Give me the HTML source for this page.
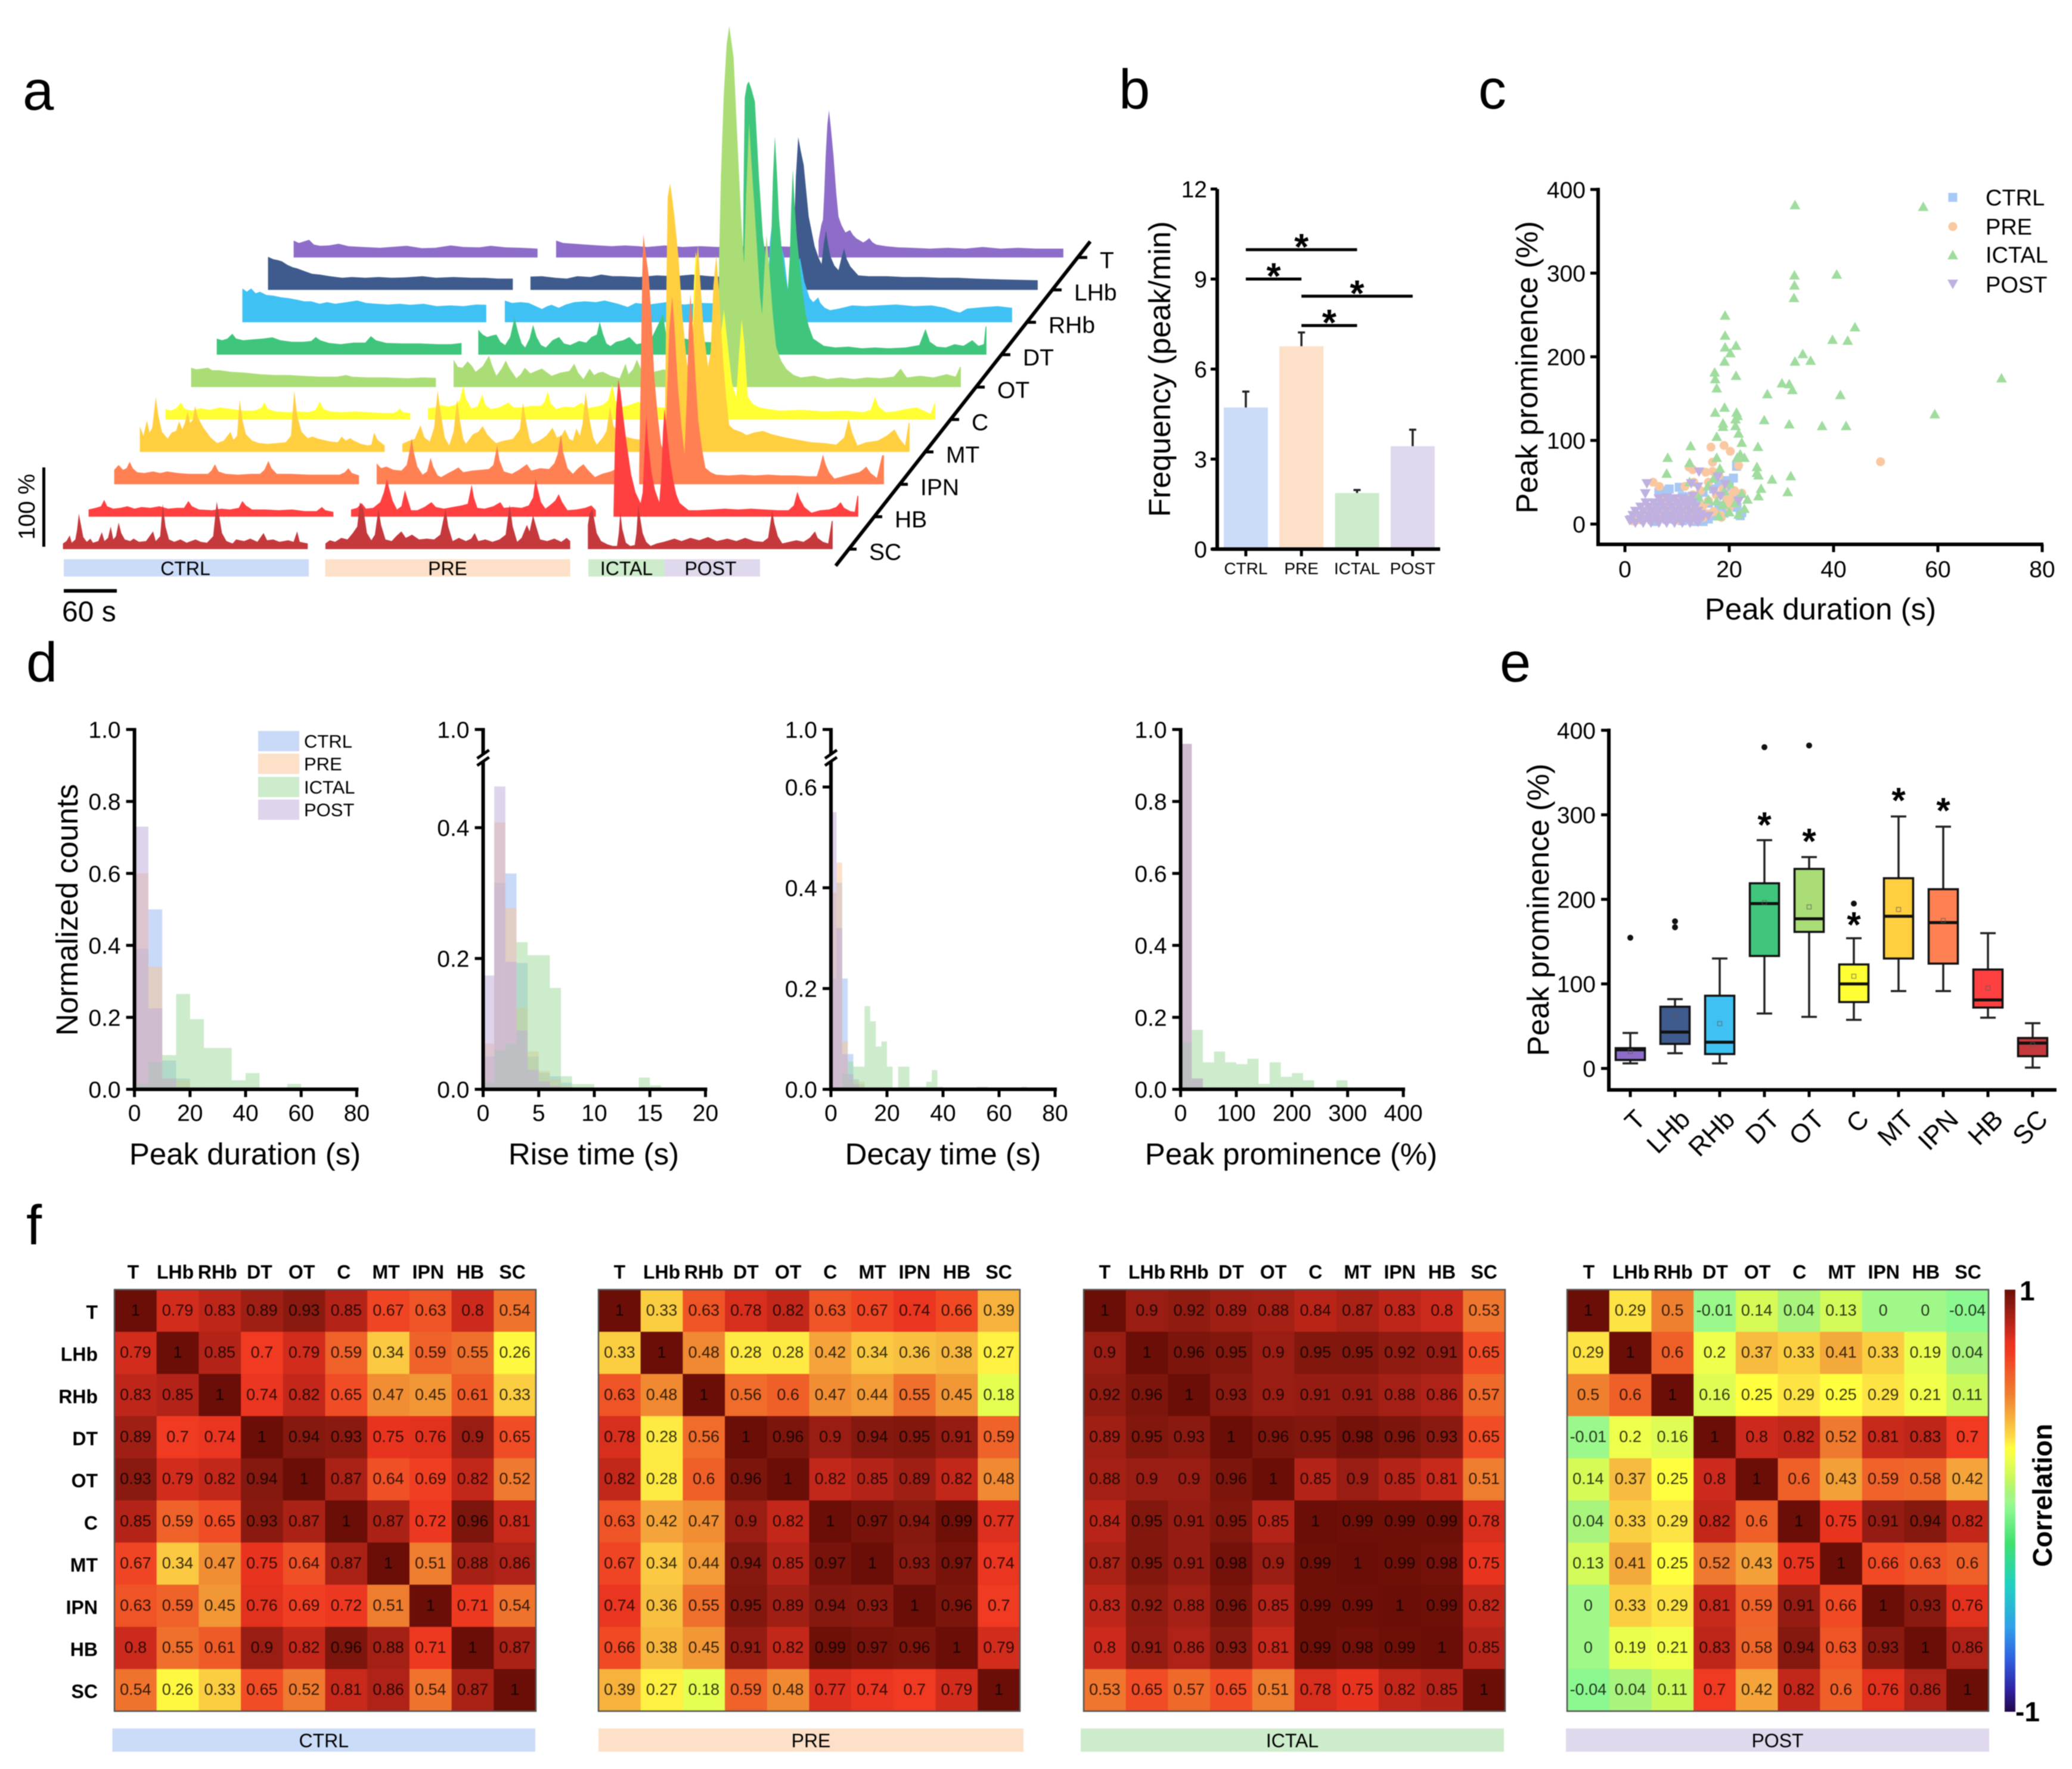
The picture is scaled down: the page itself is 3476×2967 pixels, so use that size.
<!DOCTYPE html>
<html lang="en">
<head>
<meta charset="utf-8">
<title>Multi-panel neural activity figure</title>
<style>
html,body{margin:0;padding:0;background:#fff;width:3476px;height:2967px;overflow:hidden}
svg{display:block;font-family:"Liberation Sans",Arial,sans-serif;filter:blur(0.9px)}
</style>
</head>
<body>
<svg id="figure" xmlns="http://www.w3.org/2000/svg" width="3476" height="2967" viewBox="0 0 3476 2967">
  <rect x="0" y="0" width="3476" height="2967" fill="#fff"/>
  <defs>
    <linearGradient id="cbar" x1="0" y1="0" x2="0" y2="1"></linearGradient>
  </defs>
  <g id="panelA">
    <text x="38" y="184" font-size="94">a</text>
    <text transform="translate(58,850) rotate(-90)" text-anchor="middle" font-size="39">100 %</text>
    <text x="104" y="1042" font-size="48">60 s</text>
  </g>
  <g id="panelB">
    <text x="1877" y="182" font-size="94">b</text>
    <text transform="translate(1963,619) rotate(-90)" text-anchor="middle" font-size="51">Frequency (peak/min)</text>
  </g>
  <g id="panelC">
    <text x="2480" y="182" font-size="94">c</text>
    <text transform="translate(2579,616) rotate(-90)" text-anchor="middle" font-size="51">Peak prominence (%)</text>
    <text x="3054" y="1039" text-anchor="middle" font-size="51">Peak duration (s)</text>
  </g>
  <g id="panelD">
    <text x="44" y="1143" font-size="94">d</text>
    <text transform="translate(130,1526) rotate(-90)" text-anchor="middle" font-size="51">Normalized counts</text>
    <text x="411" y="1953" text-anchor="middle" font-size="51">Peak duration (s)</text>
    <text x="996" y="1953" text-anchor="middle" font-size="51">Rise time (s)</text>
    <text x="1582" y="1953" text-anchor="middle" font-size="51">Decay time (s)</text>
    <text x="2166" y="1953" text-anchor="middle" font-size="51">Peak prominence (%)</text>
  </g>
  <g id="panelE">
    <text x="2516" y="1143" font-size="94">e</text>
    <text transform="translate(2598,1526) rotate(-90)" text-anchor="middle" font-size="51">Peak prominence (%)</text>
  </g>
  <g id="panelF">
    <text x="44" y="2087" font-size="94">f</text>
    <text transform="translate(3442,2508) rotate(-90)" text-anchor="middle" font-size="45" font-weight="bold">Correlation</text>
    <text x="3388" y="2181" font-size="46" font-weight="bold">1</text>
    <text x="3381" y="2887" font-size="46" font-weight="bold">-1</text>
  </g>
</svg>
<script>
/* ---------- shared categories ---------- */
const regions = ['T','LHb','RHb','DT','OT','C','MT','IPN','HB','SC'];
const phases = ['CTRL','PRE','ICTAL','POST'];

/* ---------- panel a: traces as [seconds, percent, ...] ---------- */
const traceTCtrl=[0,21,6,18,12,20,17.5,22,23,16,30,14.5,40,15,51,17,62,14,78,13,98,12,110,13,128,14.5,145,11.5,160,12,178,15,192,13,210,12.5,223,14.5,240,12.5,258,12,276,11];
const traceTPre=[297,21,305,18,318,17,330.5,16,345,15,360,14,375,15,390,14,400,13,420,15,440,13,460,14,480,13,500,14,520,13,540,14,574,13];
const traceTIctal=[594,21,597,40,599,47,600.5,80,602,125,604,165,605.8,182.6,608,160,611,125,614,80,616.6,50.7,620,40,624.4,31,629.6,34,633,28,636.8,23.6,644.6,18.7,648,21,651.4,24,655,19,659.3,16,670,14,684,12.5,700,12,720,11,740,12,760,11,780,13,800,11,820,12,840,11,871,11];
const traceLHbCtrl=[0,41,6,38,11,37,15.5,35.6,22,31,28,28,33,26.7,42,23,50,20,58.5,19,70,17,84,15,95,16,110,15,125,16,140,15,155,15.5,175,17,190,15,210,16,230,15,245,15,260,14,277,14];
const traceLHbPre=[297,16.5,310,17,325,15,338,14,350,17,365,16,377,19,390,17,400,17,420,16,440,18,460,17,480,19,500,17,520,16,540,15,574,15];
const traceLHbIctal=[594,14,595,60,597.3,140,600,189.5,603,172,606.2,155,611.9,91,618.6,54,623,40,626.4,32,629,58,631.4,73.5,634,55,636.5,41.6,641,30,645.6,24.5,649,40,651.9,51.5,655,38,659,29,668,18,680,17,700,17,720,16,740,16,760,15,780,15,800,14,830,13,871,12];
const traceRHbCtrl=[0,42,5,38,10,42,15,36,20,38,27,34,35,33,44,31,52,30,62,28,70,26,78,26,87.5,23,96,25,105,23,118,25,130,27,140,24,152,23,165,22,178,23,190,21.6,205,23,220,20,235,21,250,20,265,22,276,21.6];
const traceRHbPre=[297,27,305,24,315,25,324,24,332,20,339,16.5,345,20,350,21.6,358,18,366,22,375.6,25,388,26,400,25,410,27,425,23,436,19,445,24,460,22,480,25,500,22,520,24,574,22];
const traceRHbIctal=[594,24,597,100,600,130,606,110,613,82,617.5,40,622,35,627,70,631,80,636,50,642,30,646,25,649,28,651.6,31,654,24,659,18,665,15,675,17,690,21,705,20,720,21,740,22,760,20,780,21,795,18,805,14,812,12,820,17,840,19,855,20,871,18];
const traceDTCtrl=[0,20,6,18,12,20,17.6,26,22,20,30,18,40,19,52,20,63,21.6,72,18,85,16,98,16,107,17,112,22,117,18,127,14.5,140,13,155,15,168,15,174.5,23,180,18,192,14.5,210,14,230,14,250,13,265,13,277,14.5];
const traceDTPre=[296,31,301,25,306,22,312,24,316.5,25,321,16,326.3,12,332,22,337,46,341,28,345,14,349,9,354,20,358,37,362,22,367,12,372.4,9,380,18,387.4,22,393,14,400,12,410,17,418,15,424,22,430,25,433.4,41,437,26,441,14,445.5,10.7,452,16,460,18,467,22,475,13,490,16,505,50,509,22,518,16,530,20,545,16,574,15];
const traceDTIctal=[594,14,595.5,100,596,196,597.5,319,600,335,602,339,605,330,609,314,613.6,220,618,147,623,105,625,105,627.6,147,629.4,220,631.6,271,634,225,636.2,171,639,135,642.9,97,646.3,80,648.5,122,650,180,651.9,230,654,185,656.4,147,659,118,662,85,666.5,50,670,35,675,20,687,11,700,9,715,10,730,8,745,9,760,8,780,9,795,12,802,32,807,16,815,10,825,9,835,13,845,11,855,18,862,11,868,13,870,35,871,35];
const traceOTCtrl=[0,24,6,22,12,23,19,24,24,21,32,21,45,19,60,18,78,16,95,15,111,15,125,14,145,13,165,13,175.6,15,182,13,200,12,220,12,245,11,262,12,277,11.4];
const traceOTPre=[297,34,302,25,307,24,313,32,318,26,322,19,330,26,337,39,341,26,345.5,14,352,24,356,33,360,24,368,11,373,16,377.7,24,384,17,390,20,397,23,403,18,408,14,418,18,428,20,433.6,29,438,18,444,10,451,23,456,15,461,18,466,19,475,14,485,11,491.6,29,495,16,500,22,504.5,34,510,20,520,18,535,22,550,16,574,16];
const traceOTIctal=[595.5,16,597,100,597.5,162,599.5,261,602.6,360,606,425,609,448,613.9,409,618.1,310,622.3,212,625.7,152,628,235,631.4,328,634,280,638.1,212,643.8,113,646,90,649,150,651.2,189,654,150,658.4,88,662,50,668,32,674,22,682,15,690,12,705,14,720,10,735,12,750,10,765,12,780,11,795,13,803,23,810,12,825,14,840,12,855,16,865,13,870,25,871,25];
const traceCCtrl=[0,13,6,11,12,14,17.6,21,22,13,30,11,40,14,50,12,62,15,75,13,88,11,100,11,108,14,112,21,116,13,125,10,138,9,150,10,162,9,170,12,174.5,22,179,13,186,10,200,9,215,10,230,9,245,8,258,8,262,10,265,13.5,269,9,277,8];
const traceCPre=[297,14,305,15,312,18,320,16,328,18,333,24,337,42,340,26,346,14,353,16,358.5,31,362,18,368,13,378,15,388,21,394,15,404,15,414,17,425,17,429,22,432.5,35,436,20,442,13,452,16,462,15,471,21,477,14,487,16,495,18,501,24,505.6,43,509,24,515,15,525,18,535,22,550,16,574,14];
const traceCIctal=[594,12,596,100,598,170,600,208,603,190,607,120,612,65,618,45,624,60,628,100,632,136,636,95,641,45,645.8,28,649,80,652,124,655,95,659,28,665,19,672,15,682,13,695,11,720,12,745,10,770,11,790,9,798,12,803,28,807,16,815,9,825,10,838,13,850,15,860,10,866,7,870,20,871,20];
const traceMTCtrl=[0,32,4,20,8,39,11,24,14,30,18,68,21,45,25,25,31.5,16.5,36,24,41,26,44.4,38,48,28,51,36,54,50,57,36,60,40,62.5,57,66,42,72,30,80,18,87.4,11,95,14,102.5,25,106,15,110,20,113,65,116,40,120,22,127,14,135,11,145,10,155,11,165,12,171,20,174.7,76,178,45,183,25,190,17,195,19,203,16,215,13,224,12,228.4,19,233,14,238,17,242,14,250,10,258,8,262,9,265,24,269,15,277,8];
const traceMTPre=[297,10,305,14,311,16,317.5,33,322,18,328,13,333,30,337,76,340,52,345,18,350,8,355,25,359,65,362,40,366,16,369,10,377,22,383,25,388,32,393,22,398,16,403,11,412,14,422,16,430,28,433.6,61,437,38,441,16,444,10,452,14,460,20,467,30,472,18,477,20,481,28,486,16,490,14,494,29,498,20,501,35,504.5,74,508,45,513,18,517,9,524,18,528,26,532,56,536,32,545,20,560,16,574,14];
const traceMTIctal=[594,20,596,217,597.3,316,600,333,602,318,605,292,609.5,242,614,168,619,110,623,95,627,170,629.5,230,631.6,256,634,215,638,150,643,105,646,125,649,205,652.3,244,655,205,657.7,155,660,115,663.4,68,667,33,672,28,680,25,686.6,21,695,24,705,26,715,22,730,18,745,15,760,12,775,11,788,9,797,18,802,41,806,24,812,8,822,12,835,14,845,20,854,28,860,16,866,8,870,36,871,36];
const traceIPNCtrl=[0,18,5,24,10,18,14,20,17.5,28,21,20,26,15,34,14,44,16,52,14,60,16,72,14,84,13,96,13,106,13,110,17,114,25,118,16,126,13,140,12,155,13,165,13,170,18,174.5,29,178,20,184,13,200,13,220,12,240,12,255,12,261,15,265,20,269,14,277,11];
const traceIPNPre=[297,26,302,20,308,22,316,18,325,17,331,24,334,40,336.6,57,339,40,343,22,349,12,354,16,358,33,361,22,366,11,370,9,378,14,385,18,389.5,21,395,15,405,17,415,18,424,19,429,24,433.3,48,436,30,441,16,450,13,458,18,467,25,472,17,482,20,492,19,498,26,502,38,505.5,62,508,40,513,20,519,13,525,20,531,25,536,18,544,9,552,13,562,16,570,20,574,16];
const traceIPNIctal=[594,16,596,150,597.5,260,598.8,310,601,290,604.9,258,607.8,209,611,137,615,85,618.8,50,622,40,625,90,628,190,631.4,233,634,195,638,120,642,70,645.4,38,648,110,650,190,652,236,655,190,658,130,661,79,665,45,669,20.5,675,15,681,12,695,11,710,12,725,11,740,12,755,11,770,11,785,10,795,10,798,20,802,37,805,25,809,15,815,7,825,10,835,13,843,15,847,18,851,22,856,14,863,8,869,36,871,36];
const traceHBCtrl=[0,9,8,11,14,13,17.7,21,21,13,28,10,36,11,44,13,52,10,60,12,70,11,80,13,90,10,100,11,108,11,113,19.5,117,13,125,9,140,8,150,10,160,9,170,11,174,19.5,178,14,185,9,200,9,215,8,230,9,245,7,258,7,264,12,268,8,277,6];
const traceHBPre=[297,9,304,11,309,17,314,10,322,11,330,18,334,30,337.6,47,340,36,344,20,349,9,354,13,358,33,361,22,365,8,372,8,380,12,388,18,393,12,402,10,412,12,422,14,429,16,433.5,40,436,24,440,11,448,10,458,13,466,18,470,11,480,12,490,11,498,14,503,24,505.7,47,508,36,512,18,517,10,524,16,528,20,532,28,536,18,542,8,552,9,562,11,569,14,574,8];
const traceHBIctal=[594,5,595.6,90,597,135,599.5,170,602,155,605,125,609,90,614,52,619,30,624.6,17,627,30,629,80,631.2,126,633,95,637,55,641,33,645.8,18,648,50,650,105,651.7,134,654,110,658,70,661.5,46,665,28,669,17,679,8,690,8,705,9,720,10,735,9,750,10,765,9,780,8,792,8,798,14,802,31,805,22,810,12,818,5,828,8,838,9,846,12,851,18,855,11,862,7,867,6,870,26,871,26];
const traceSCCtrl=[0,7,4,10,7.6,17,10,8,14,12,16,24,18,44,20,32,23,15,27,9,31,13,34,8,40,10,44,21,47,10,51,14,54,28,57,12,60,16,63,33,66,20,70,12,76,10,80,13,86,9,94,10,102,22,105,10,110,16,113,56,116,28,120,12,126,9,133,12,140,8,150,12,156,9,163,8,170,16,174,59,177,40,180,20,185,10,192,7,196,12,205,10,212,13,220,9,227,20,231,11,238,12,245,9,255,11,261,9,265,22,268,9,277,7];
const traceSCPre=[297,7,302,11,308,9,315,14,322,12,328,20,333,28,336,58,340,50,344,20,349,11,353,18,357,50,360,30,365,12,372,10,377,16,383,22,388,14,395,18,403,12,412,13,420,12,427,18,433,50,436,28,441,10,448,14,456,10,462,13,466,20,470,10,478,12,486,9,494,12,501,18,505.5,55,509,28,514,9,519,14,525,30,528,22,532,42,535,30,540,12,548,10,556,13,564,9,570,14,574,10];
const traceSCIctal=[594,30,596,44,599,50,601,38,604,20,609,10,616,6,622,4,627,4,629,20,630.7,46,633,25,637,8,642,4,647,5,649,20,651,55,653,40,656,20,660,9,665,4,672,7,680,9,692,13,700,10,710,14,720,11,730,15,740,10,752,13,762,10,772,14,782,10,792,9,798,14,802.7,48,805,32,809,16,814,7,822,9,830,11,838,9,845,14,851,22,854,14,860,9,866,7,870,35,871,35];

const traceCtrl=[traceTCtrl,traceLHbCtrl,traceRHbCtrl,traceDTCtrl,traceOTCtrl,traceCCtrl,traceMTCtrl,traceIPNCtrl,traceHBCtrl,traceSCCtrl];
const tracePre=[traceTPre,traceLHbPre,traceRHbPre,traceDTPre,traceOTPre,traceCPre,traceMTPre,traceIPNPre,traceHBPre,traceSCPre];
const traceIctal=[traceTIctal,traceLHbIctal,traceRHbIctal,traceDTIctal,traceOTIctal,traceCIctal,traceMTIctal,traceIPNIctal,traceHBIctal,traceSCIctal];

/* ---------- panel b ---------- */
const freqValues=[4.72,6.76,1.87,3.43];
const freqErrors=[0.53,0.46,0.1,0.55];
const freqTicks=[0,3,6,9,12];
const sigFrom=[0,0,1,1];
const sigTo=[2,1,3,2];
const sigLevel=[9.98,9.0,8.43,7.45];

/* ---------- panel c: [duration, prominence, ...] ---------- */
const scatterCtrl=[21.4,69,22.4,13.6,19,13,20.8,55,10.4,44,7.3,40,8.5,42,6.5,38,22.1,10,21.5,20,19.5,52,18,50,20,45,19,35,21,30,17,42,15,38,14,30,12,32,11,33,9,30,8,30,13,22,16,25,18,18,17,10,16,6,19,22,20,22,15,12,14,5,12,8,10,12,9,20,7,25,6,18,5,10,11,4,8,6,6,3,13,3,15,3,3,8,4,14,12,28,10,25,8,15];
const scatterPre=[49,74.5,16.5,92,19,94,20.2,87,21.8,70,16.8,74,12.3,68,13,65,16.8,63,15.5,62,5.4,50,6.6,45,11.5,45,13.2,50,18.3,11,20.8,38,20,33,19.5,29,18.8,42,21,40,22.4,37,17.5,35,16,28,15,22,14.5,40,13,35,12,20,10,30,9,15,7,30,5,20,4,12,3.5,7,6,8,8,22,11,10,13,6,15,8,17,15,18.5,8,20,20,21,25,2.5,5,10,5,16,12,14,15,9.5,25,7,12,1.5,4,16,50,18,58];
const scatterIctal=[32.6,382,57.2,380,32.5,298,40.6,299,32.5,286,32.4,271,19.2,250,44.1,236,19.2,226,39.8,221,42.7,220,19.2,212,21.3,214,20.2,205,34.1,204,32.6,195,19.1,195,35.6,196,17.2,182,21.3,178,17.3,174,30.1,169,31.5,168,72.2,175,17.6,163,32.1,161,27.3,156,41.3,155,19.1,140,17.3,134,21.4,134,59.4,132,21.6,130,26.7,125,18.8,121,21.2,126,31.5,120,37.8,118,42.4,118,18.8,117,21.2,118,17.6,105,21.8,109,22.4,98,12.6,94,25.5,93,22.1,84,8.2,80,22.9,80,12.4,74,21.5,80,8,61,25.3,69,25.3,62,25.6,59,31.8,58,28.2,54,26.1,43,31.2,39,25.6,34,23.5,30,17.6,80,18.2,67,17,55,22.4,37,21.2,26,21.8,12,17.6,28,18.8,24,14.1,33,15.9,46,20,49,22.9,19,12.4,51,12.9,17,16,30,19,40,20,15,18,10];
const scatterPost=[4.2,48,3.9,36,14.2,62,12.7,48,14,44,17.8,56,19.2,47,21.8,27,17,39,18.3,33,15,9,16,9,13,33,0.9,4,2,1,3.5,1,5,1,6.5,1,8,1,9.5,1,11,1,12.5,1,14,2,1.2,5,3,5,4.5,5,6,5,7.5,5,9,5,10.5,5,12,5,13.5,5,14.5,6,1.5,10,3,10,4.5,10,6,10,7.5,10,9,10,10.5,10,12,10,13.5,10,14.5,11,2,15,3.5,15,5,15,6.5,15,8,15,9.5,15,11,15,12.5,15,14,15,3,20,4.5,20,6,20,7.5,20,9,20,10.5,20,12,20,13.5,20,4,25,5.5,25,7,25,8.5,25,10,25,11.5,25,13,25,6.5,30,8,31,9.5,30,11,30,12.5,28];
const scatterXTicks=[0,20,40,60,80];
const scatterYTicks=[0,100,200,300,400];

/* ---------- panel d: normalized histogram counts per bin ---------- */
const durationCtrl=[.39,.50,.08,.03];
const durationPre=[.60,.34,.03,.025];
const durationIctal=[.015,.075,.095,.265,.195,.115,.115,.025,.045,0,0,.015,0,0,.003];
const durationPost=[.73,.225,.03,.005];
const riseCtrl=[.05,.316,.33,.193,.05,.025,.02,.01];
const risePre=[.07,.408,.277,.125,.058,.028,.015,.005];
const riseIctal=[.01,.06,.07,.225,.205,.205,.155,.02,.008,.008,0,0,0,0,.018,.006];
const risePost=[.174,.463,.195,.09,.03,.012,.005];
const decayCtrl=[.22,.41,.22,.07,.02,.01];
const decayPre=[.39,.45,.095,.02,.015,.015];
const decayIctal=[0,0,.03,.055,.045,.045,.165,.135,.085,.095,.045,0,.045,.045,.005,.005,.005,.015,.038,.005,0,0,0,0,0,0,.005,.005,0,0,0,0,0,0,.005];
const decayPost=[.55,.32,.07,.03,.01];
const promCtrl=[.96,.03];
const promPre=[.96,.03];
const promIctal=[.13,.165,.075,.105,.075,.07,.085,.015,.075,.035,.045,.025,0,0,.025];
const promPost=[.96,.03];
const fractionTicks=[0,.2,.4,.6,.8,1];
const riseFractionTicks=[0,.2,.4];
const decayFractionTicks=[0,.2,.4,.6];
const durationTicks=[0,20,40,60,80];
const riseTicks=[0,5,10,15,20];
const promTicks=[0,100,200,300,400];

/* ---------- panel e: box plot stats ---------- */
const boxLow=[6,18,6,65,61,57.5,91.5,91.5,60,1];
const boxQ1=[10,29,17,133,161.5,78.5,130,124,72,14.5];
const boxMedian=[22,43,31,195,177,100,180,172.5,81,30];
const boxQ3=[24,73,86,219,236,123,225,212,117,36];
const boxHigh=[42,82,130,270,250,154,298,286,160,53.5];
const boxMean=[20,63,53,196,191,109,188,175,95,28];
const boxOutliers=[[154.6],[174,167],[],[380],[382],[195],[],[],[],[]];
const boxStars=[null,null,null,298,278.5,180,327,315,null,null];
const boxTicks=[0,100,200,300,400];

/* ---------- panel f: correlation matrices ---------- */
const corrCtrl=[
[1,.79,.83,.89,.93,.85,.67,.63,.8,.54],
[.79,1,.85,.7,.79,.59,.34,.59,.55,.26],
[.83,.85,1,.74,.82,.65,.47,.45,.61,.33],
[.89,.7,.74,1,.94,.93,.75,.76,.9,.65],
[.93,.79,.82,.94,1,.87,.64,.69,.82,.52],
[.85,.59,.65,.93,.87,1,.87,.72,.96,.81],
[.67,.34,.47,.75,.64,.87,1,.51,.88,.86],
[.63,.59,.45,.76,.69,.72,.51,1,.71,.54],
[.8,.55,.61,.9,.82,.96,.88,.71,1,.87],
[.54,.26,.33,.65,.52,.81,.86,.54,.87,1]];
const corrPre=[
[1,.33,.63,.78,.82,.63,.67,.74,.66,.39],
[.33,1,.48,.28,.28,.42,.34,.36,.38,.27],
[.63,.48,1,.56,.6,.47,.44,.55,.45,.18],
[.78,.28,.56,1,.96,.9,.94,.95,.91,.59],
[.82,.28,.6,.96,1,.82,.85,.89,.82,.48],
[.63,.42,.47,.9,.82,1,.97,.94,.99,.77],
[.67,.34,.44,.94,.85,.97,1,.93,.97,.74],
[.74,.36,.55,.95,.89,.94,.93,1,.96,.7],
[.66,.38,.45,.91,.82,.99,.97,.96,1,.79],
[.39,.27,.18,.59,.48,.77,.74,.7,.79,1]];
const corrIctal=[
[1,.9,.92,.89,.88,.84,.87,.83,.8,.53],
[.9,1,.96,.95,.9,.95,.95,.92,.91,.65],
[.92,.96,1,.93,.9,.91,.91,.88,.86,.57],
[.89,.95,.93,1,.96,.95,.98,.96,.93,.65],
[.88,.9,.9,.96,1,.85,.9,.85,.81,.51],
[.84,.95,.91,.95,.85,1,.99,.99,.99,.78],
[.87,.95,.91,.98,.9,.99,1,.99,.98,.75],
[.83,.92,.88,.96,.85,.99,.99,1,.99,.82],
[.8,.91,.86,.93,.81,.99,.98,.99,1,.85],
[.53,.65,.57,.65,.51,.78,.75,.82,.85,1]];
const corrPost=[
[1,.29,.5,-.01,.14,.04,.13,0,0,-.04],
[.29,1,.6,.2,.37,.33,.41,.33,.19,.04],
[.5,.6,1,.16,.25,.29,.25,.29,.21,.11],
[-.01,.2,.16,1,.8,.82,.52,.81,.83,.7],
[.14,.37,.25,.8,1,.6,.43,.59,.58,.42],
[.04,.33,.29,.82,.6,1,.75,.91,.94,.82],
[.13,.41,.25,.52,.43,.75,1,.66,.63,.6],
[0,.33,.29,.81,.59,.91,.66,1,.93,.76],
[0,.19,.21,.83,.58,.94,.63,.93,1,.86],
[-.04,.04,.11,.7,.42,.82,.6,.76,.86,1]];
const corrMatrices=[corrCtrl,corrPre,corrIctal,corrPost];

/* ---------- drawing helpers ---------- */
const NS='http://www.w3.org/2000/svg';
function add(parent,tag,name,attrs,text){
  const el=document.createElementNS(NS,tag);
  
  
  for(const k in attrs) el.setAttribute(k,attrs[k]);
  if(text!==undefined) el.textContent=text;
  parent.appendChild(el);
  return el;
}
function line(p,name,x1,y1,x2,y2,w,c){return add(p,'line',name,{x1,y1,x2,y2,stroke:c||'#000','stroke-width':w});}
function rect(p,name,x,y,w,h,fill){return add(p,'rect',name,{x,y,width:w,height:h,fill});}
function label(p,name,x,cy,s,size,anchor,weight,fill){
  return add(p,'text',name,{x,y:cy+size*.36,'font-size':size,'text-anchor':anchor||'middle','font-weight':weight||'normal',fill:fill||'#000'},s);
}
function star(p,name,cx,cy,size){
  return add(p,'text',name,{x:cx,y:cy+size*.575,'font-size':size,'font-weight':'bold','text-anchor':'middle'},'*');
}

const regionColors=['#8e6cc9','#3f5b8d','#3fc1f3','#3fc67c','#abdd77','#ffff33','#ffcf40','#ff8052','#ff4040','#c5383c'];
const phaseLight=['#cbdcf8','#fde0c8','#cdeccb','#e0d8ec'];
const histFill=['rgba(147,181,241,.5)','rgba(249,193,145,.5)','rgba(155,217,153,.5)','rgba(190,170,215,.5)'];
const markerFill=['#a7c8f4','#fac8a0','#9fdc9e','#bfb0e0'];

/* ---------- panel a ---------- */
(function(){
  const g=document.getElementById('panelA');
  const rowX=i=>105.6+43*i, rowY=i=>921-54.35*i;
  const tx=t=>1.4825*t, vy=v=>1.352*v;
  function area(i,seg,name){
    const row=9-i;
    let d='M'+(rowX(row)+tx(seg[0])).toFixed(1)+' '+rowY(row);
    for(let k=0;k<seg.length;k+=2){
      d+=' L'+(rowX(row)+tx(seg[k])).toFixed(1)+' '+(rowY(row)-vy(seg[k+1])).toFixed(1);
    }
    d+=' L'+(rowX(row)+tx(seg[seg.length-2])).toFixed(1)+' '+rowY(row)+' Z';
    add(g,'path',name,{d,fill:regionColors[i]});
  }
  regions.forEach((r,i)=>{
    const key=r.toLowerCase();
    area(i,traceCtrl[i],'trace-'+key+'-ctrl');
    area(i,tracePre[i],'trace-'+key+'-pre');
    area(i,traceIctal[i],'trace-'+key+'-ictal');
  });
  line(g,'region-axis',1402,949,1829,405,6);
  regions.forEach((r,i)=>{
    const row=9-i;
    const tickX=1422+43*row, tickY=921-54.35*row;
    line(g,'region-tick-'+r.toLowerCase(),tickX,tickY,tickX+15,tickY,5);
    label(g,'region-label-'+r.toLowerCase(),1458+43*row,tickY+4,r,39,'start');
  });
  line(g,'scale-bar-100-percent',73.5,784,73.5,917,5);
  line(g,'scale-bar-60-s',107,991,196,991,6);
  const bands=[[107,411,0,311],[545.6,411,1,751],[987,128,2,1051],[1115,160,3,1192]];
  bands.forEach(b=>{
    rect(g,'phase-band-'+phases[b[2]].toLowerCase(),b[0],938,b[1],29,phaseLight[b[2]]);
    label(g,'phase-band-label-'+phases[b[2]].toLowerCase(),b[3],953,phases[b[2]],32);
  });
})();

/* ---------- panel b ---------- */
(function(){
  const g=document.getElementById('panelB');
  const y=v=>921-v*50.33;
  const cx=i=>2090+i*93.3;
  freqValues.forEach((v,i)=>{
    const n=phases[i].toLowerCase();
    line(g,'error-bar-'+n,cx(i),y(v),cx(i),y(v+freqErrors[i]),3.5,'#222');
    line(g,'error-cap-'+n,cx(i)-6,y(v+freqErrors[i]),cx(i)+6,y(v+freqErrors[i]),3.5,'#222');
    rect(g,'bar-'+n,cx(i)-37,y(v),74,921-y(v),phaseLight[i]);
    line(g,'x-tick-'+n,cx(i),921,cx(i),933,5);
    label(g,'x-tick-label-'+n,cx(i),953,phases[i],28);
  });
  line(g,'y-axis',2042,317,2042,924,6);
  line(g,'x-axis',2033,921,2416,921,6);
  freqTicks.forEach(t=>{
    line(g,'y-tick-'+t,2031,y(t),2042,y(t),5);
    label(g,'y-tick-label-'+t,2025,y(t),String(t),39,'end');
  });
  sigFrom.forEach((a,i)=>{
    const x1=cx(a),x2=cx(sigTo[i]),yy=y(sigLevel[i]);
    line(g,'significance-line-'+(i+1),x1,yy,x2,yy,5);
    star(g,'significance-star-'+(i+1),(x1+x2)/2,yy-19,62);
  });
})();

/* ---------- panel c ---------- */
(function(){
  const g=document.getElementById('panelC');
  const x=v=>2726+v*8.75, y=v=>879-v*1.403;
  function mark(p,name,kind,cx,cy,fill){
    if(kind===0) rect(p,name,cx-7.5,cy-7.5,15,15,fill);
    else if(kind===1) add(p,'circle',name,{cx,cy,r:7.5,fill});
    else if(kind===2) add(p,'polygon',name,{points:(cx-9)+','+(cy+8)+' '+(cx+9)+','+(cy+8)+' '+cx+','+(cy-8),fill});
    else add(p,'polygon',name,{points:(cx-9)+','+(cy-8)+' '+(cx+9)+','+(cy-8)+' '+cx+','+(cy+8),fill});
  }
  [scatterCtrl,scatterPre,scatterIctal,scatterPost].forEach((s,kind)=>{
    const n='point-'+phases[kind].toLowerCase();
    for(let k=0;k<s.length;k+=2) mark(g,n,kind,x(s[k]),y(s[k+1]),markerFill[kind]);
  });
  line(g,'y-axis',2681,315,2681,916,6);
  line(g,'x-axis',2678,913,3428,913,6);
  scatterYTicks.forEach(t=>{
    line(g,'y-tick-'+t,2668,y(t),2681,y(t),5);
    label(g,'y-tick-label-'+t,2660,y(t),String(t),39,'end');
  });
  scatterXTicks.forEach(t=>{
    line(g,'x-tick-'+t,x(t),913,x(t),926,5);
    label(g,'x-tick-label-'+t,x(t),954,String(t),39);
  });
  const legendY=[331,380,427,477];
  phases.forEach((ph,i)=>{
    mark(g,'legend-marker-'+ph.toLowerCase(),i,3276,legendY[i],markerFill[i]);
    label(g,'legend-label-'+ph.toLowerCase(),3331,legendY[i],ph,38,'start');
  });
})();

/* ---------- panel d ---------- */
(function(){
  const g=document.getElementById('panelD');
  function hist(cfg){
    const x=v=>cfg.x0+v*cfg.kx;
    const y=v=>1827-v*cfg.ky;
    cfg.series.forEach((s,si)=>{
      s.forEach((v,b)=>{
        if(v>0) rect(g,cfg.id+'-bar-'+phases[si].toLowerCase(),x(b*cfg.bin),y(v),cfg.bin*cfg.kx,v*cfg.ky,histFill[si]);
      });
    });
    line(g,cfg.id+'-y-axis',cfg.x0,1221,cfg.x0,1830,6);
    line(g,cfg.id+'-x-axis',cfg.x0-3,1827,x(cfg.xTicks[cfg.xTicks.length-1])+3,1827,6);
    cfg.xTicks.forEach(t=>{
      line(g,cfg.id+'-x-tick-'+t,x(t),1827,x(t),1840,5);
      label(g,cfg.id+'-x-tick-label-'+t,x(t),1866,String(t),39);
    });
    cfg.yTicks.forEach(t=>{
      const yy=y(t);
      line(g,cfg.id+'-y-tick-'+t,cfg.x0-14,yy,cfg.x0,yy,5);
      label(g,cfg.id+'-y-tick-label-'+t,cfg.x0-23,yy,t.toFixed(1),39,'end');
    });
    if(cfg.broken){
      line(g,cfg.id+'-top-tick',cfg.x0-14,1223.5,cfg.x0,1223.5,5);
      label(g,cfg.id+'-top-tick-label',cfg.x0-23,1223.5,'1.0',39,'end');
      rect(g,cfg.id+'-axis-break-gap',cfg.x0-5,1266,10,12,'#fff');
      line(g,cfg.id+'-axis-break-upper',cfg.x0-10,1272,cfg.x0+10,1258,5);
      line(g,cfg.id+'-axis-break-lower',cfg.x0-10,1284,cfg.x0+10,1270,5);
    }
  }
  hist({id:'duration-hist',x0:225.6,kx:4.66,ky:603.5,bin:5,xTicks:durationTicks,yTicks:fractionTicks,series:[durationCtrl,durationPre,durationIctal,durationPost]});
  hist({id:'rise-hist',x0:810.5,kx:18.65,ky:1097,bin:1,xTicks:riseTicks,yTicks:riseFractionTicks,broken:true,series:[riseCtrl,risePre,riseIctal,risePost]});
  hist({id:'decay-hist',x0:1394,kx:4.7,ky:845,bin:2,xTicks:durationTicks,yTicks:decayFractionTicks,broken:true,series:[decayCtrl,decayPre,decayIctal,decayPost]});
  hist({id:'prominence-hist',x0:1980.6,kx:.934,ky:603.5,bin:20,xTicks:promTicks,yTicks:fractionTicks,series:[promCtrl,promPre,promIctal,promPost]});
  const swatchY=[1226,1264,1303,1341];
  phases.forEach((ph,i)=>{
    rect(g,'legend-swatch-'+ph.toLowerCase(),433,swatchY[i],69,34,histFill[i]);
    label(g,'legend-label-'+ph.toLowerCase(),510,swatchY[i]+17,ph,31,'start');
  });
})();

/* ---------- panel e ---------- */
(function(){
  const g=document.getElementById('panelE');
  const y=v=>1792-v*1.418;
  const cx=i=>2735+i*75;
  regions.forEach((r,i)=>{
    const n=r.toLowerCase(), x=cx(i);
    line(g,'whisker-'+n,x,y(boxLow[i]),x,y(boxHigh[i]),3.5,'#222');
    line(g,'whisker-cap-low-'+n,x-13,y(boxLow[i]),x+13,y(boxLow[i]),3.5,'#222');
    line(g,'whisker-cap-high-'+n,x-13,y(boxHigh[i]),x+13,y(boxHigh[i]),3.5,'#222');
    add(g,'rect','box-'+n,{x:x-24.5,y:y(boxQ3[i]),width:49,height:y(boxQ1[i])-y(boxQ3[i]),fill:regionColors[i],stroke:'#111','stroke-width':3.5});
    line(g,'median-'+n,x-24.5,y(boxMedian[i]),x+24.5,y(boxMedian[i]),5,'#111');
    add(g,'rect','mean-'+n,{x:x-3.5,y:y(boxMean[i])-3.5,width:7,height:7,fill:'none',stroke:'rgba(90,90,90,.6)','stroke-width':1.5});
    boxOutliers[i].forEach(o=>{
      add(g,'circle','outlier-'+n,{cx:x,cy:y(o),r:5,fill:'#111'});
    });
    if(boxStars[i]!==null) star(g,'significance-star-'+n,x,y(boxStars[i]),60);
    line(g,'x-tick-'+n,x,1828,x,1840,5);
    add(g,'text','x-tick-label-'+n,{x:x+28,y:1880,'font-size':44,'text-anchor':'end',transform:'rotate(-45 '+(x+28)+' 1880)'},r);
  });
  line(g,'y-axis',2699,1222,2699,1831,6);
  line(g,'x-axis',2696,1828,3450,1828,6);
  boxTicks.forEach(t=>{
    line(g,'y-tick-'+t,2686,y(t),2699,y(t),5);
    label(g,'y-tick-label-'+t,2677,y(t),String(t),39,'end');
  });
})();

/* ---------- panel f ---------- */
const colorStops=[[1,'#6a0e07'],[.93,'#8a1a10'],[.85,'#b42318'],[.8,'#cc2a1c'],[.75,'#e8341f'],[.7,'#f03a22'],[.6,'#ef5f28'],[.5,'#ef8030'],[.4,'#f5ad3c'],[.3,'#fddc45'],[.25,'#ffff40'],[.2,'#eeff4c'],[.1,'#c6f85e'],[.04,'#a8f47c'],[0,'#a0f888'],[-.04,'#8cf890'],[-.2,'#40e070'],[-.4,'#20d0c0'],[-.6,'#30a0e8'],[-.75,'#3060e0'],[-.9,'#3020a0'],[-1,'#200848']];
function colorFor(v){
  for(let i=0;i<colorStops.length-1;i++){
    const a=colorStops[i],b=colorStops[i+1];
    if(v<=a[0]&&v>=b[0]){
      const f=(a[0]-v)/(a[0]-b[0]);
      const ca=[1,3,5].map(k=>parseInt(a[1].substr(k,2),16));
      const cb=[1,3,5].map(k=>parseInt(b[1].substr(k,2),16));
      return 'rgb('+ca.map((c,k)=>Math.round(c+(cb[k]-c)*f)).join(',')+')';
    }
  }
  return colorStops[0][1];
}
(function(){
  const g=document.getElementById('panelF');
  const left=[192,1004,1818,2629];
  const bandLeft=[188.5,1004,1813,2627];
  const bandRight=[898,1717,2523,3337];
  const colShift=[-4,0,0,1];
  const top=2163,cell=70.7;
  corrMatrices.forEach((m,mi)=>{
    const x0=left[mi],ph=phases[mi].toLowerCase();
    m.forEach((row,r)=>{
      row.forEach((v,c)=>{
        rect(g,'heat-cell-'+ph+'-'+regions[r].toLowerCase()+'-'+regions[c].toLowerCase(),x0+c*cell,top+r*cell,cell+.5,cell+.5,colorFor(v));
        add(g,'text','heat-value-'+ph,{x:x0+(c+.5)*cell,y:top+(r+.5)*cell+8,'font-size':27,'text-anchor':'middle',fill:'rgba(0,0,0,.78)'},String(v));
      });
    });
    add(g,'rect','heat-frame-'+ph,{x:x0,y:top,width:cell*10,height:cell*10,fill:'none',stroke:'#555','stroke-width':2.5});
    regions.forEach((r,i)=>{
      label(g,'heat-column-label-'+ph+'-'+r.toLowerCase(),x0+(i+.5)*cell+colShift[mi],2133,r,32,'middle','bold');
      if(mi===0) label(g,'heat-row-label-'+r.toLowerCase(),x0-28,top+(i+.5)*cell+2,r,32,'end','bold');
    });
    rect(g,'phase-band-'+ph,bandLeft[mi],2899,bandRight[mi]-bandLeft[mi],39,phaseLight[mi]);
    label(g,'phase-band-label-'+ph,(bandLeft[mi]+bandRight[mi])/2,2919,phases[mi],32);
  });
  const grad=document.getElementById('cbar');
  colorStops.forEach(s=>{
    const st=document.createElementNS(NS,'stop');
    st.setAttribute('offset',((1-s[0])/2*100)+'%');
    st.setAttribute('stop-color',s[1]);
    grad.appendChild(st);
  });
  rect(g,'colorbar',3363,2163,18,708,'url(#cbar)');
})();
</script>
</body>
</html>
